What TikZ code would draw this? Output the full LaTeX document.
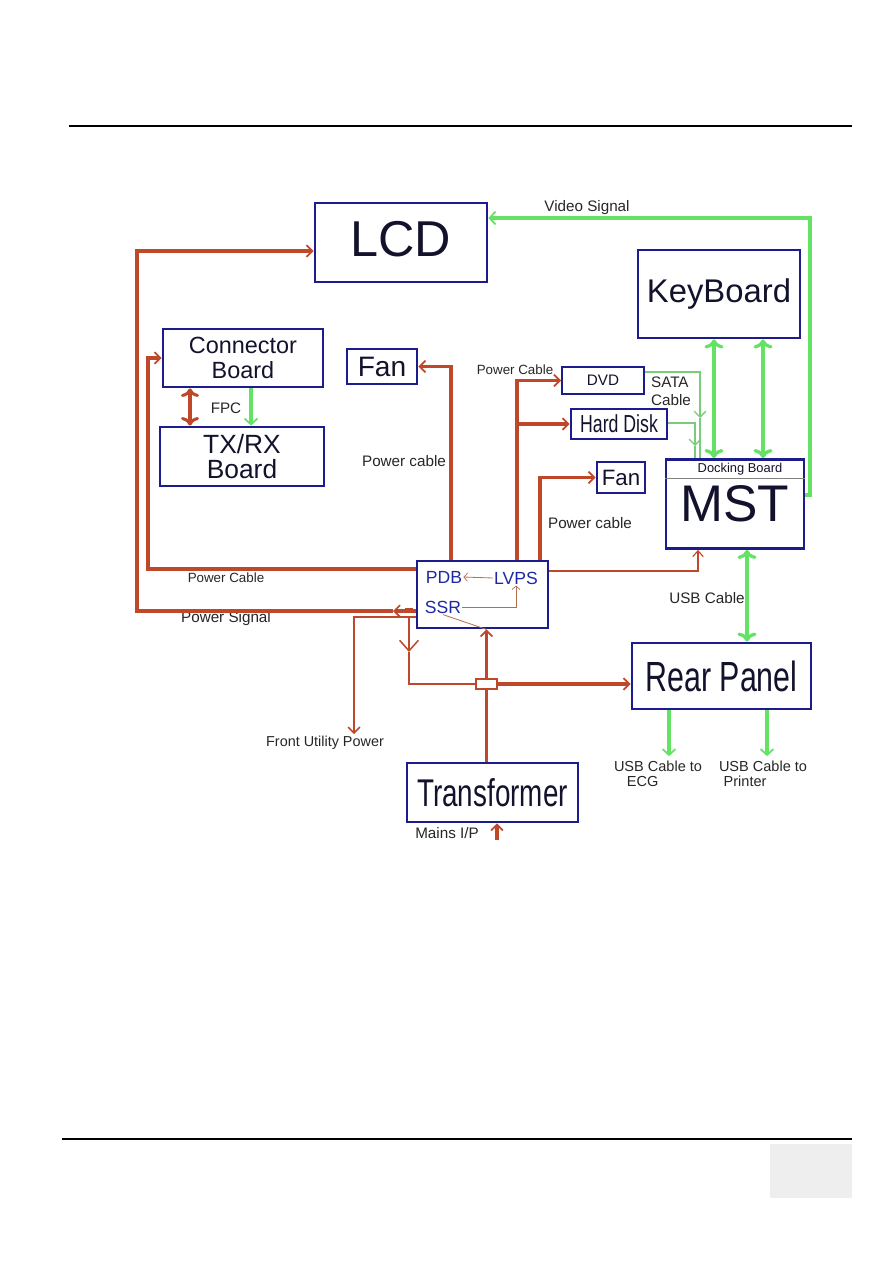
\documentclass[tikz,border=0pt]{standalone}
\usepackage{fontspec}
\setmainfont{Liberation Sans}
\newfontfamily\condfont[FakeStretch=0.72]{Liberation Sans}
\usepackage{xcolor}
\usepackage{tikz}
\usetikzlibrary{arrows.meta, positioning}
\definecolor{boxBlue}{RGB}{28,28,140}
\definecolor{inkNavy}{RGB}{18,18,45}
\definecolor{pdbBlue}{RGB}{30,40,165}
\definecolor{wireRed}{RGB}{192,72,42}
\definecolor{wireTan}{RGB}{180,110,80}
\definecolor{sigGreen}{RGB}{100,226,100}
\definecolor{sataGreen}{RGB}{120,205,120}
\definecolor{pageGray}{RGB}{238,238,238}
\newcommand\fsz[2]{\fontsize{#1}{#2}\selectfont}
\tikzset{
  unitbox/.style={
    rectangle, draw=boxBlue, line width=2.4pt,
    inner sep=0pt, align=center, text=inkNavy
  },
  pdbtxt/.style={inner sep=1pt, text=pdbBlue, font=\fsz{15}{16}},
  lbl/.style={inner sep=1pt, text=black!85, font=\fsz{13}{15}},
  pwrline/.style={-{Straight Barb[length=5pt,width=10pt,line width=1.5pt]}, draw=wireRed, line width=2.6pt},
  pwrmid/.style={-{Straight Barb[length=5pt,width=10pt,line width=1.3pt]}, draw=wireRed, line width=1.7pt},
  pwrthin/.style={-{Straight Barb[length=5pt,width=9pt,line width=1pt]}, draw=wireRed, line width=1pt},
  innerarr/.style={-{Straight Barb[length=3pt,width=7pt,line width=0.6pt]}, draw=wireTan, line width=0.7pt},
  sigline/.style={-{Straight Barb[length=5pt,width=11pt,line width=1.5pt]}, draw=sigGreen, line width=2.8pt},
  sataline/.style={-{Straight Barb[length=5pt,width=10pt,line width=1.2pt]}, draw=sataGreen, line width=1.9pt}
}

\begin{document}
\begin{tikzpicture}[x=0.03cm, y=-0.03cm]
\useasboundingbox (0,0) rectangle (893,1263);
% page rules
\draw[line width=1.4pt] (69,126) -- (852,126);
\draw[line width=1.4pt] (62,1139) -- (852,1139);
\fill[pageGray] (770,1144) rectangle (852,1198);

% units
\node[unitbox, minimum width=5.16cm, minimum height=2.37cm, font=\fsz{43}{48}] (lcd) at (401,242.5) {\raisebox{6pt}{LCD}};
\node[unitbox, minimum width=4.86cm, minimum height=2.64cm, font=\fsz{28}{32}] (kbd) at (719,294) {KeyBoard};
\node[unitbox, minimum width=4.8cm, minimum height=1.74cm, font=\fsz{20}{21}] (conn) at (243,358) {Connector\\Board};
\node[unitbox, minimum width=4.92cm, minimum height=1.77cm, font=\fsz{22.5}{22}] (txrx) at (242,456.5) {TX/RX\\Board};
\node[unitbox, minimum width=2.1cm, minimum height=1.05cm, font=\fsz{24}{26}] (fanA) at (382,366.5) {Fan};
\node[unitbox, line width=1.7pt, minimum width=2.46cm, minimum height=0.81cm, font=\fsz{13}{15}] (dvd) at (603,380.5) {DVD};
\node[unitbox, minimum width=2.88cm, minimum height=0.9cm, font=\condfont\fsz{21}{22}] (hdd) at (619,424) {Hard Disk};
\node[unitbox, minimum width=1.44cm, minimum height=0.93cm, font=\fsz{19}{20}] (fanB) at (621,477.5) {Fan};
\node[unitbox, minimum width=4.14cm, minimum height=2.67cm, font=\fsz{44}{48}] (mst) at (735,504) {MST};
\node[inner sep=1pt, text=inkNavy, font=\fsz{11}{12}] (dock) at (740,469) {Docking Board};
\draw[gray, line width=0.6pt] ([yshift=-0.6cm]mst.north west) -- ([yshift=-0.6cm]mst.north east);
\node[unitbox, minimum width=3.93cm, minimum height=2.01cm] (pdb) at (482.5,594.5) {};
\node[pdbtxt] (pdbt) at (444,577) {PDB};
\node[pdbtxt] (lvps) at (516,578) {LVPS};
\node[pdbtxt] (ssr) at (443,607) {SSR};
\node[draw=wireRed, line width=1.3pt, minimum width=0.63cm, minimum height=0.3cm, inner sep=0pt] (jn) at (486.5,684) {};
\node[unitbox, minimum width=5.37cm, minimum height=1.98cm, font=\condfont\fsz{36}{40}] (rear) at (721.5,676) {Rear Panel};
\node[unitbox, minimum width=5.13cm, minimum height=1.77cm, font=\condfont\fsz{33}{36}] (trans) at (492.5,792.5) {Transformer};

% labels
\node[lbl] (vidlbl) at (587,208) {Video Signal};
\node[lbl, font=\fsz{11.4}{13}] (pcDvd) at (515,370) {Power Cable};
\node[lbl, align=left] (sata) at (671,391) {SATA\\Cable};
\node[lbl] (fpc) at (226,408) {FPC};
\node[lbl] (pcFanA) at (404,461) {Power cable};
\node[lbl] (pcFanB) at (590,523) {Power cable};
\node[lbl] (usbLbl) at (707,598) {USB Cable};
\node[lbl, font=\fsz{11.4}{13}] (pcConn) at (226,578) {Power Cable};
\node[lbl] (psLbl) at (226,619) {Power Signal};
\node[lbl, font=\fsz{12.3}{14}] (fuLbl) at (325,743) {Front Utility Power};
\node[lbl] (mainsLbl) at (447,833) {Mains I/P};
\node[lbl, align=left, font=\fsz{12.4}{13}] (ecg) at (658,774) {USB Cable to\\\hspace{11pt}ECG};
\node[lbl, align=left, font=\fsz{12.4}{13}] (prn) at (763,774) {USB Cable to\\\hspace{4pt}Printer};

% free ends
\coordinate (psig) at (393,611);
\coordinate (fup) at (354,734);
\coordinate (fuj) at (409,617);
\coordinate (vtip) at (409,652);
\coordinate (mains) at (497,840);
\coordinate (sataA) at (700,418);
\coordinate (sataB) at (695,446);

% power wiring
\draw[pwrline] (pdb.west |- 0,611) -- (psig);
\draw[wireRed, line width=4pt] (405,610) -- (413,610);
\draw[pwrline] (psig) -- (137,611) |- (lcd.west |- 0,251);
\draw[pwrline] (pdb.west |- 0,569) -- (148,569) |- (conn.west);
\draw[pwrline,<->] (conn.south -| 190,0) -- (txrx.north -| 190,0);
\draw[pwrline] (pdb.north -| 451,0) |- (fanA.east);
\draw[pwrline] (pdb.north -| 517,0) |- (dvd.west);
\draw[pwrline] (hdd.west -| 517,0) -- (hdd.west);
\draw[pwrline] (pdb.north -| 540,0) |- (fanB.west);
\draw[pwrthin] (pdb.east |- 0,571) -| (mst.south -| 698,0);
\draw[pwrmid] (pdb.west |- fuj) -| (fup);
\draw[pwrmid, -{Straight Barb[length=9pt,width=16pt,line width=1.3pt]}] (fuj) -- (vtip);
\draw[pwrmid, -] (vtip) |- (jn.west);
\draw[pwrline, -] (trans.north -| jn.south) -- (jn.south);
\draw[pwrline] (jn.north) -- (pdb.south -| jn.north);
\draw[pwrline] (jn.east) -- (rear.west |- jn.east);
\draw[pwrline] (mains) -- (trans.south -| mains);

% inside PDB
\draw[innerarr] (lvps.west) -- (pdbt.east);
\draw[innerarr] (ssr.east) -| (lvps.south);
\draw[wireTan, line width=0.7pt] (ssr.south) -- (pdb.south -| jn.north);

% signals
\draw[sigline] (conn.south -| 251,0) -- (txrx.north -| 251,0);
\draw[sigline] (mst.east |- 0,495) -- (810,495) |- (lcd.east |- 0,218);
\draw[sigline,<->] (kbd.south -| 714,0) -- (mst.north -| 714,0);
\draw[sigline,<->] (kbd.south -| 763,0) -- (mst.north -| 763,0);
\draw[sataline] (dvd.east |- 0,372) -| (sataA);
\draw[sataline,-] (sataA) -- (mst.north -| sataA);
\draw[sataline] (hdd.east |- 0,423) -| (sataB);
\draw[sataline,-] (sataB) -- (mst.north -| sataB);
\draw[sigline,<->] (mst.south -| 747,0) -- (rear.north -| 747,0);
\draw[sigline, shorten >=3pt] (rear.south -| 669,0) -- (ecg.north -| 669,0);
\draw[sigline, shorten >=3pt] (rear.south -| 767,0) -- (prn.north -| 767,0);
\end{tikzpicture}
\end{document}
